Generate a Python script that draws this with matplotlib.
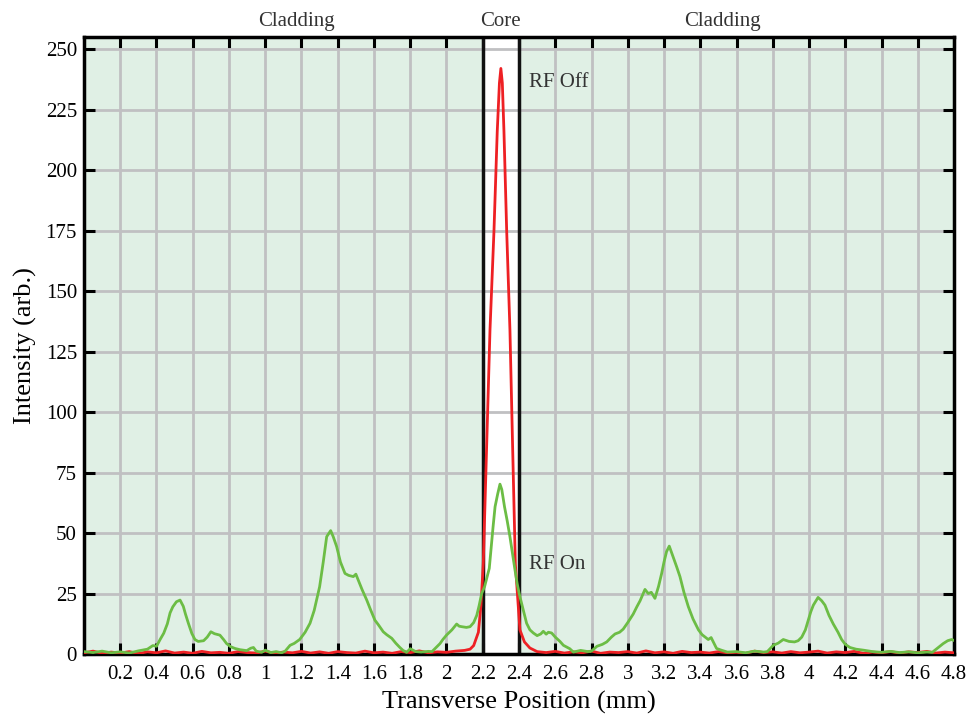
import matplotlib
matplotlib.use("Agg")
import matplotlib.pyplot as plt
import numpy as np

plt.rcParams['font.family'] = ['Liberation Serif', 'DejaVu Serif']

# ---- data ----
x_on = [0.00, 0.05, 0.10, 0.15, 0.20, 0.25, 0.30, 0.35, 0.38, 0.40, 0.42, 0.44, 0.46, 0.475, 0.49,
        0.51, 0.53, 0.548, 0.56, 0.576, 0.595, 0.612, 0.63, 0.66, 0.68, 0.70, 0.72, 0.75, 0.77, 0.787,
        0.81, 0.833, 0.86, 0.898, 0.92, 0.935, 0.95, 0.98, 1.00, 1.03, 1.06, 1.09, 1.11, 1.137, 1.16,
        1.19, 1.22, 1.247, 1.27, 1.30, 1.32, 1.339, 1.361, 1.375, 1.394, 1.415, 1.44, 1.46, 1.486, 1.50,
        1.513, 1.535, 1.56, 1.58, 1.605, 1.625, 1.651, 1.67, 1.698, 1.72, 1.743, 1.76, 1.78, 1.80, 1.83,
        1.86, 1.90, 1.92, 1.94, 1.964, 1.98, 2.00, 2.03, 2.056, 2.07, 2.084, 2.11, 2.13, 2.15, 2.167,
        2.18, 2.194, 2.21, 2.236, 2.257, 2.268, 2.282, 2.295, 2.305, 2.32, 2.335, 2.35, 2.365, 2.378,
        2.39, 2.405, 2.424, 2.442, 2.46, 2.479, 2.50, 2.52, 2.534, 2.55, 2.562, 2.58, 2.60, 2.626, 2.645,
        2.68, 2.70, 2.74, 2.78, 2.80, 2.83, 2.86, 2.884, 2.91, 2.93, 2.955, 2.975, 3.00, 3.03, 3.05,
        3.068, 3.095, 3.113, 3.13, 3.15, 3.17, 3.187, 3.20, 3.214, 3.229, 3.25, 3.27, 3.288, 3.31, 3.334,
        3.36, 3.39, 3.41, 3.444, 3.46, 3.49, 3.52, 3.55, 3.60, 3.65, 3.70, 3.75, 3.77, 3.803, 3.83,
        3.858, 3.89, 3.92, 3.94, 3.96, 3.98, 3.996, 4.01, 4.024, 4.05, 4.07, 4.088, 4.11, 4.134, 4.16,
        4.18, 4.20, 4.226, 4.26, 4.30, 4.35, 4.40, 4.45, 4.50, 4.55, 4.60, 4.65, 4.68, 4.71, 4.74,
        4.765, 4.787, 4.80]
y_on = [1.0, 0.6, 1.2, 0.5, 0.9, 0.4, 1.3, 2.0, 3.5, 3.2, 6.0, 8.6, 12.5, 17.0, 19.5,
        21.6, 22.3, 19.7, 16.5, 12.7, 8.5, 6.0, 5.2, 5.5, 7.0, 9.2, 8.4, 7.8, 6.0, 4.3,
        3.0, 2.3, 1.8, 1.4, 2.4, 2.7, 1.2, 0.7, 1.6, 0.6, 1.0, 0.5, 1.2, 3.6, 4.4,
        6.0, 9.0, 12.7, 18.0, 27.8, 38.0, 48.5, 51.0, 48.5, 44.4, 38.0, 33.3, 32.5, 32.0, 33.0,
        30.6, 26.5, 22.3, 18.5, 14.0, 12.0, 9.2, 8.0, 6.5, 4.5, 2.7, 1.5, 0.7, 2.2, 1.0,
        0.8, 1.1, 1.0, 2.5, 4.3, 6.0, 7.8, 10.0, 12.4, 11.5, 11.3, 11.0, 11.3, 13.0, 16.0,
        20.0, 25.0, 27.8, 35.4, 52.6, 60.9, 66.0, 70.2, 68.0, 60.9, 55.0, 48.5, 41.0, 34.7,
        29.0, 23.7, 18.0, 12.7, 10.0, 8.7, 7.6, 8.3, 9.4, 8.2, 9.0, 8.7, 7.0, 5.2, 3.6,
        2.2, 0.8, 1.5, 1.0, 1.2, 3.2, 4.0, 5.0, 7.0, 8.3, 9.0, 10.3, 13.0, 16.5, 19.5,
        22.0, 26.7, 25.0, 25.5, 23.0, 28.0, 33.3, 38.0, 42.3, 44.6, 40.2, 36.0, 32.0, 25.5, 19.6,
        14.5, 10.0, 8.0, 6.0, 6.8, 2.3, 1.5, 0.8, 1.0, 0.5, 1.2, 0.8, 1.0, 3.6, 4.5,
        6.0, 5.2, 5.0, 5.5, 7.0, 10.0, 14.0, 17.5, 20.2, 23.4, 22.0, 20.2, 16.0, 12.4, 9.0,
        6.0, 4.0, 2.7, 2.0, 1.6, 1.0, 0.7, 1.1, 0.6, 0.9, 0.5, 0.8, 0.7, 2.5, 4.3,
        5.5, 6.0, 5.6]

x_off = [0.00, 0.05, 0.10, 0.15, 0.20, 0.25, 0.30, 0.35, 0.40, 0.45, 0.50, 0.55, 0.60, 0.65, 0.70,
         0.75, 0.80, 0.85, 0.90, 0.95, 1.00, 1.05, 1.10, 1.15, 1.20, 1.25, 1.30, 1.35, 1.40, 1.45,
         1.50, 1.55, 1.60, 1.65, 1.70, 1.75, 1.80, 1.85, 1.90, 1.95, 2.00, 2.05, 2.10, 2.13, 2.15,
         2.176, 2.19, 2.203, 2.22, 2.24, 2.262, 2.28, 2.292, 2.30, 2.308, 2.317, 2.332, 2.35, 2.365,
         2.38, 2.405, 2.43, 2.46, 2.50, 2.55, 2.60, 2.65, 2.70, 2.75, 2.80, 2.85, 2.90, 2.95, 3.00,
         3.05, 3.10, 3.15, 3.20, 3.25, 3.30, 3.35, 3.40, 3.45, 3.50, 3.55, 3.60, 3.65, 3.70, 3.75,
         3.80, 3.85, 3.90, 3.95, 4.00, 4.05, 4.10, 4.15, 4.20, 4.25, 4.30, 4.35, 4.40, 4.45, 4.50,
         4.55, 4.60, 4.65, 4.70, 4.75, 4.80]
y_off = [0.5, 1.2, 0.3, 0.8, 0.4, 1.0, 0.2, 0.9, 0.5, 1.3, 0.4, 0.8, 0.3, 1.1, 0.5,
         0.7, 0.3, 1.0, 0.6, 0.4, 1.2, 0.3, 0.8, 0.5, 1.1, 0.4, 0.9, 0.3, 1.0, 0.6,
         0.4, 1.2, 0.5, 0.8, 0.3, 1.0, 0.6, 1.3, 0.5, 0.9, 0.7, 1.2, 1.5, 2.0, 3.5,
         9.0, 20.0, 37.5, 82.0, 134.0, 175.0, 216.0, 236.0, 242.0, 236.0, 216.0, 175.0, 134.0, 85.0,
         37.0, 10.0, 5.0, 2.5, 1.0, 0.6, 1.1, 0.4, 0.9, 0.5, 1.2, 0.3, 0.8, 0.6, 1.0,
         0.4, 1.3, 0.5, 0.9, 0.3, 1.1, 0.6, 0.8, 0.4, 1.0, 0.5, 0.7, 0.3, 1.2, 0.6,
         0.9, 0.4, 1.0, 0.5, 0.8, 1.2, 0.4, 0.9, 0.6, 1.1, 0.3, 0.8, 0.5, 1.0, 0.4,
         0.9, 0.6, 1.1, 0.4, 0.8, 0.5]

x_ticks = [0.2, 0.4, 0.6, 0.8, 1.0, 1.2, 1.4, 1.6, 1.8, 2.0, 2.2, 2.4, 2.6, 2.8, 3.0, 3.2,
           3.4, 3.6, 3.8, 4.0, 4.2, 4.4, 4.6, 4.8]
y_ticks = [0, 25, 50, 75, 100, 125, 150, 175, 200, 225, 250]
core_edges = [2.2, 2.4]

fig = plt.figure(figsize=(9.72, 7.18), dpi=100)
ax = fig.add_axes([0.0864, 0.0891, 0.8951, 0.8594])
ax.set_xlim(0, 4.8)
ax.set_ylim(0, 255)
ax.set_facecolor('#e0f0e5')

ax.axvspan(core_edges[0], core_edges[1], color='white', zorder=0.5)
ax.set_axisbelow(True)
ax.grid(True, color='#c0c0c2', linewidth=2)
for xc in core_edges:
    ax.axvline(xc, color='#111111', linewidth=2.5, zorder=1.5)

ax.plot(x_off, y_off, color='#ee2024', linewidth=2, zorder=3)
ax.plot(x_on, y_on, color='#6cbd45', linewidth=2, zorder=4)

ax.set_xticks(x_ticks)
ax.set_xticklabels(['%g' % t for t in x_ticks])
ax.set_yticks(y_ticks)
ax.tick_params(axis='both', direction='in', length=8, width=2.2, labelsize=15,
               top=True, right=True, colors='black')
ax.tick_params(axis='x', pad=8)
ax.tick_params(axis='y', pad=5)
for sp in ax.spines.values():
    sp.set_linewidth(2.5)
    sp.set_color('black')

ax.set_xlabel('Transverse Position (mm)', fontsize=19, labelpad=5)
ax.set_ylabel('Intensity (arb.)', fontsize=19, labelpad=6)

ax.text(1.17, 1.025, 'Cladding', transform=ax.get_xaxis_transform(), ha='center', va='center',
        fontsize=15, color='#333333')
ax.text(2.30, 1.025, 'Core', transform=ax.get_xaxis_transform(), ha='center', va='center',
        fontsize=15, color='#333333')
ax.text(3.52, 1.025, 'Cladding', transform=ax.get_xaxis_transform(), ha='center', va='center',
        fontsize=15, color='#333333')
ax.text(2.455, 236, 'RF Off', ha='left', va='center', fontsize=15, color='#333333')
ax.text(2.455, 37, 'RF On', ha='left', va='center', fontsize=15, color='#333333')

fig.savefig('out.png', dpi=100)
